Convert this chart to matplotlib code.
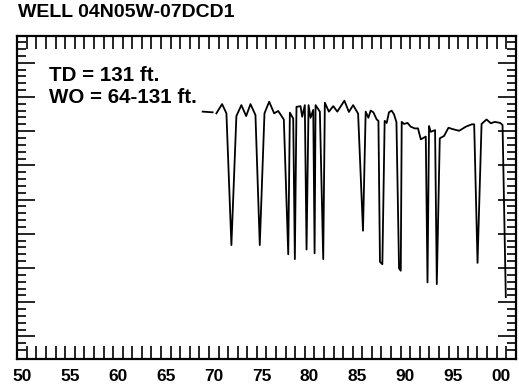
import matplotlib
matplotlib.use('Agg')
import matplotlib.pyplot as plt
import numpy as np

# 井名与注记
well_name = "WELL 04N05W-07DCD1"
notes = ["TD = 131 ft.", "WO = 64-131 ft."]

# 年份(小数)与水位埋深(ft)，nan 表示断开
years = [1969.34, 1970.38, np.nan,
         1970.77, 1971.37, 1971.82, 1972.34, 1972.86, 1973.38, 1973.88, 1974.33,
         1974.85, 1975.30, 1975.79, 1976.28, 1976.80, 1977.22, 1977.81, 1978.27,
         1978.44, 1978.79, 1978.96, 1979.13, 1979.55, 1979.73, 1980.00, 1980.18,
         1980.39, 1980.60, 1980.88, 1981.02, 1981.12, 1981.57, 1981.92, 1982.09,
         1982.51, 1982.97, 1983.39, 1984.13, 1984.60, 1985.04, 1985.56, 1986.07,
         1986.35, 1986.63, 1986.87, 1987.15, 1987.50, 1987.68, 1987.84, 1988.09,
         1988.33, 1988.54, 1988.78, 1989.06, 1989.31, 1989.56, 1989.83, 1990.01,
         1990.11, 1990.35, 1990.71, 1991.05, 1991.47, 1991.81, 1992.10, 1992.62,
         1992.80, 1992.96, 1993.14, 1993.59, 1993.77, 1994.08, 1994.53, 1994.99,
         1995.41, 1996.10, 1996.80, 1997.43, 1997.67, 1998.02, 1998.44, 1998.96,
         1999.41, 1999.83, 2000.38, 2000.63, 2000.97]
depth = [24.3, 24.5, np.nan,
         24.8, 22.1, 24.8, 63.3, 25.6, 22.4, 25.6, 22.1,
         25.3, 63.3, 24.8, 21.4, 24.8, 24.1, 26.6, 66.0,
         24.6, 26.3, 67.4, 22.9, 22.7, 25.8, 22.4, 64.6,
         22.4, 26.1, 23.8, 65.7, 22.4, 24.3, 67.4, 21.7,
         24.3, 22.7, 24.3, 21.1, 24.4, 22.4, 24.9, 59.1,
         24.3, 26.1, 24.0, 24.5, 26.6, 27.0, 68.2, 68.9,
         27.0, 27.6, 24.5, 24.0, 25.1, 27.4, 70.1, 70.8,
         27.3, 27.9, 27.6, 28.7, 29.2, 29.2, 32.4, 31.6,
         74.2, 28.5, 30.2, 29.7, 74.7, 32.1, 31.4, 29.0,
         29.4, 29.9, 28.7, 28.0, 28.0, 68.5, 27.9, 26.6,
         27.7, 27.3, 27.6, 28.2, 78.5]

year_labels = ["50", "55", "60", "65", "70", "75", "80", "85", "90", "95", "00"]

plt.rcParams['font.family'] = ['Liberation Sans', 'DejaVu Sans']
plt.rcParams['font.weight'] = 'bold'

fig = plt.figure(figsize=(5.19, 3.88), dpi=100)
ax = fig.add_axes([0.0333, 0.0747, 0.9603, 0.8325])

ax.plot(years, depth, color='black', lw=1.3)

ax.set_xlim(1950, 2002)
ax.set_ylim(96.6, 2.2)  # 埋深向下增大

# 年份标签放在每年的中间
ax.set_xticks(np.arange(1950, 2001, 5) + 0.5)
ax.set_xticklabels(year_labels, fontsize=12.5, fontweight='bold')
ax.set_xticks(np.arange(1950, 2003, 1), minor=True)
ax.tick_params(axis='x', which='major', length=0, pad=7)
ax.tick_params(axis='x', which='minor', direction='in', length=9.5, width=1.2,
               top=True, bottom=True)

ax.set_yticks(np.arange(10, 91, 10))
ax.set_yticks(np.arange(4, 96, 2), minor=True)
ax.set_yticklabels([])
ax.tick_params(axis='y', which='major', direction='in', length=13, width=1.2,
               left=True, right=True)
ax.tick_params(axis='y', which='minor', direction='in', length=6.5, width=1.2,
               left=True, right=True)

for s in ax.spines.values():
    s.set_linewidth(1.6)

fig.text(0.035, 0.968, well_name, fontsize=14, fontweight='bold', va='center', ha='left')
ax.text(0.063, 0.879, notes[0], transform=ax.transAxes, fontsize=14.8,
        fontweight='bold', va='center')
ax.text(0.063, 0.811, notes[1], transform=ax.transAxes, fontsize=14.8,
        fontweight='bold', va='center')

fig.savefig('out.png', dpi=100)
